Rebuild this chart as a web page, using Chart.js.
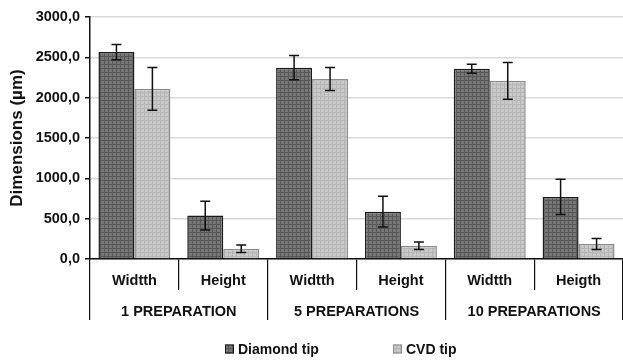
<!DOCTYPE html>
<html lang="en">
<head>
    <meta charset="UTF-8">
    <title>Dimensions by preparation</title>
    <script src="https://cdn.jsdelivr.net/npm/chart.js"></script>
    <style>
        html, body { margin: 0; padding: 0; background: #fff; }
        #wrap { width: 623px; height: 362px; }
    </style>
</head>
<body>
    <div id="wrap"><canvas id="dimChart" width="623" height="362"></canvas></div>

    <script>
        // values
        const categories = ['Widtth', 'Height', 'Widtth', 'Height', 'Widtth', 'Heigth'];
        const groups = ['1 PREPARATION', '5 PREPARATIONS', '10 PREPARATIONS'];
        const seriesNames = ['Diamond tip', 'CVD tip'];
        const diamond = [2565, 538, 2372, 587, 2358, 770];
        const diamondErr = [95, 178, 150, 190, 56, 219];
        const cvd = [2110, 128, 2231, 165, 2209, 186];
        const cvdErr = [265, 46, 143, 47, 228, 68];
        const yMin = 0, yMax = 3000, yStep = 500;

        const FONT = '"Liberation Sans", Arial, sans-serif';

        function makePattern(base, line) {
            let c = document.createElement('canvas');
            c.width = 4; c.height = 4;
            let g = c.getContext('2d');
            g.fillStyle = base;
            g.fillRect(0, 0, 4, 4);
            g.fillStyle = line;
            g.fillRect(0, 0, 4, 1);
            g.fillRect(0, 0, 1, 4);
            return g.createPattern(c, 'repeat');
        }

        const darkFill = makePattern('#767676', '#585858');
        const lightFill = makePattern('#c9c9c9', '#b5b5b5');

        // error bars, drawn from the same scales as the bars
        const errorBars = {
            id: 'errorBars',
            afterDatasetsDraw(chart) {
                let ctx = chart.ctx;
                let y = chart.scales.y;
                chart.data.datasets.forEach((ds, i) => {
                    let meta = chart.getDatasetMeta(i);
                    meta.data.forEach((bar, j) => {
                        let v = ds.data[j], e = ds.errors[j];
                        let top = y.getPixelForValue(v + e);
                        let bot = y.getPixelForValue(v - e);
                        ctx.save();
                        ctx.strokeStyle = '#111';
                        ctx.lineWidth = 1.5;
                        ctx.beginPath();
                        ctx.moveTo(bar.x, top); ctx.lineTo(bar.x, bot);
                        ctx.moveTo(bar.x - 5, top); ctx.lineTo(bar.x + 5, top);
                        ctx.moveTo(bar.x - 5, bot); ctx.lineTo(bar.x + 5, bot);
                        ctx.stroke();
                        ctx.restore();
                    });
                });
            }
        };

        // legend with the wide gap of the original
        const bottomLegend = {
            id: 'bottomLegend',
            afterDraw(chart) {
                let ctx = chart.ctx;
                let xs = [225, 393];
                let yc = 349;
                ctx.save();
                ctx.font = 'bold 14px ' + FONT;
                ctx.textBaseline = 'middle';
                chart.data.datasets.forEach((ds, i) => {
                    ctx.fillStyle = ds.backgroundColor;
                    ctx.fillRect(xs[i], yc - 4.5, 9, 9);
                    ctx.strokeStyle = ds.borderColor;
                    ctx.lineWidth = 1;
                    ctx.strokeRect(xs[i] + 0.5, yc - 4, 8, 8);
                    ctx.fillStyle = '#111';
                    ctx.fillText(ds.label, xs[i] + 13, yc + 1);
                });
                ctx.restore();
            }
        };

        new Chart(document.getElementById('dimChart'), {
            type: 'bar',
            data: {
                labels: categories,
                datasets: [{
                    label: seriesNames[0],
                    data: diamond,
                    errors: diamondErr,
                    backgroundColor: darkFill,
                    borderColor: '#1a1a1a',
                    borderWidth: 1.5,
                    categoryPercentage: 0.81,
                    barPercentage: 1.0
                }, {
                    label: seriesNames[1],
                    data: cvd,
                    errors: cvdErr,
                    backgroundColor: lightFill,
                    borderColor: '#8c8c8c',
                    borderWidth: 1.5,
                    categoryPercentage: 0.81,
                    barPercentage: 1.0
                }]
            },
            options: {
                responsive: false,
                animation: false,
                layout: { padding: { left: 0, right: 0, top: 17, bottom: 42 } },
                plugins: {
                    legend: { display: false },
                    tooltip: { enabled: false }
                },
                scales: {
                    y: {
                        min: yMin,
                        max: yMax,
                        afterFit(scale) { scale.width = 90; },
                        ticks: {
                            stepSize: yStep,
                            padding: 5,
                            color: '#111',
                            font: { family: FONT, size: 14.5, weight: 'bold' },
                            callback: v => v.toFixed(1).replace('.', ',')
                        },
                        grid: { color: '#d9d9d9', lineWidth: 1.5, tickColor: '#111', tickLength: 5 },
                        border: { color: '#111', width: 1.5 },
                        title: {
                            display: true,
                            text: 'Dimensions (µm)',
                            color: '#111',
                            padding: { top: 7, bottom: 0 },
                            font: { family: FONT, size: 17, weight: 'bold', lineHeight: 1.2 }
                        }
                    },
                    x: {
                        weight: 0,
                        afterFit(scale) { scale.height = 31; },
                        ticks: {
                            padding: -18,
                            color: '#111',
                            maxRotation: 0,
                            font: { family: FONT, size: 14.5, weight: 'bold', lineHeight: 1.2 }
                        },
                        grid: { offset: true, drawOnChartArea: false, color: '#111', tickLength: 31, lineWidth: 1.2 },
                        border: { color: '#111', width: 1.5 }
                    },
                    x2: {
                        type: 'category',
                        position: 'bottom',
                        weight: 1,
                        labels: groups,
                        offset: true,
                        afterFit(scale) { scale.height = 30; },
                        ticks: {
                            padding: -17,
                            color: '#111',
                            maxRotation: 0,
                            font: { family: FONT, size: 14.5, weight: 'bold', lineHeight: 1.2 }
                        },
                        grid: { offset: true, drawOnChartArea: false, color: '#111', tickLength: 30, lineWidth: 1.2 },
                        border: { display: false }
                    }
                }
            },
            plugins: [errorBars, bottomLegend]
        });
    </script>
</body>
</html>
